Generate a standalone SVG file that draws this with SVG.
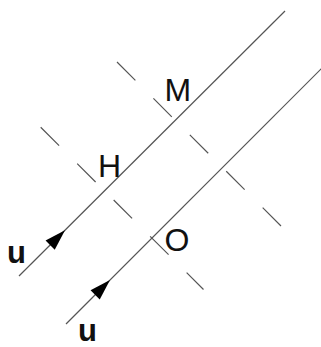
<svg xmlns="http://www.w3.org/2000/svg" width="321" height="347" viewBox="0 0 321 347">
<style>
.ray{stroke:#555;stroke-width:1.2;fill:none}
.dash{stroke:#555;stroke-width:1.2;fill:none;stroke-dasharray:26 25.5}
.lbl{font-family:"Liberation Sans",Arial,sans-serif;font-size:32px;fill:#111}
.vec{font-family:"Liberation Sans",Arial,sans-serif;font-size:31px;font-weight:bold;fill:#111}
</style>
<defs>
<path id="ah" d="M0,0 L-21,-6.5 L-21,6.5 Z" fill="#000"/>
</defs>
<rect width="321" height="347" fill="#fff"/>
<g id="connectors">
<line id="ray1" class="ray" x1="19" y1="276" x2="285" y2="11"/>
<line id="ray2" class="ray" x1="66" y1="324" x2="322" y2="68"/>
<line id="front1" class="dash" x1="117" y1="62" x2="281" y2="226"/>
<line id="front2" class="dash" x1="40.7" y1="127.3" x2="203.5" y2="289.5"/>
<use href="#ah" transform="translate(65,230.2) rotate(-45)"/>
<use href="#ah" transform="translate(110,280) rotate(-45)"/>
</g>
<g id="M"><text class="lbl" x="164.5" y="100.5">M</text></g>
<g id="H"><text class="lbl" x="98" y="177">H</text></g>
<g id="O"><text class="lbl" x="164.5" y="251">O</text></g>
<g id="u1"><text class="vec" x="7" y="263">u</text></g>
<g id="u2"><text class="vec" x="78" y="340.5">u</text></g>
</svg>
